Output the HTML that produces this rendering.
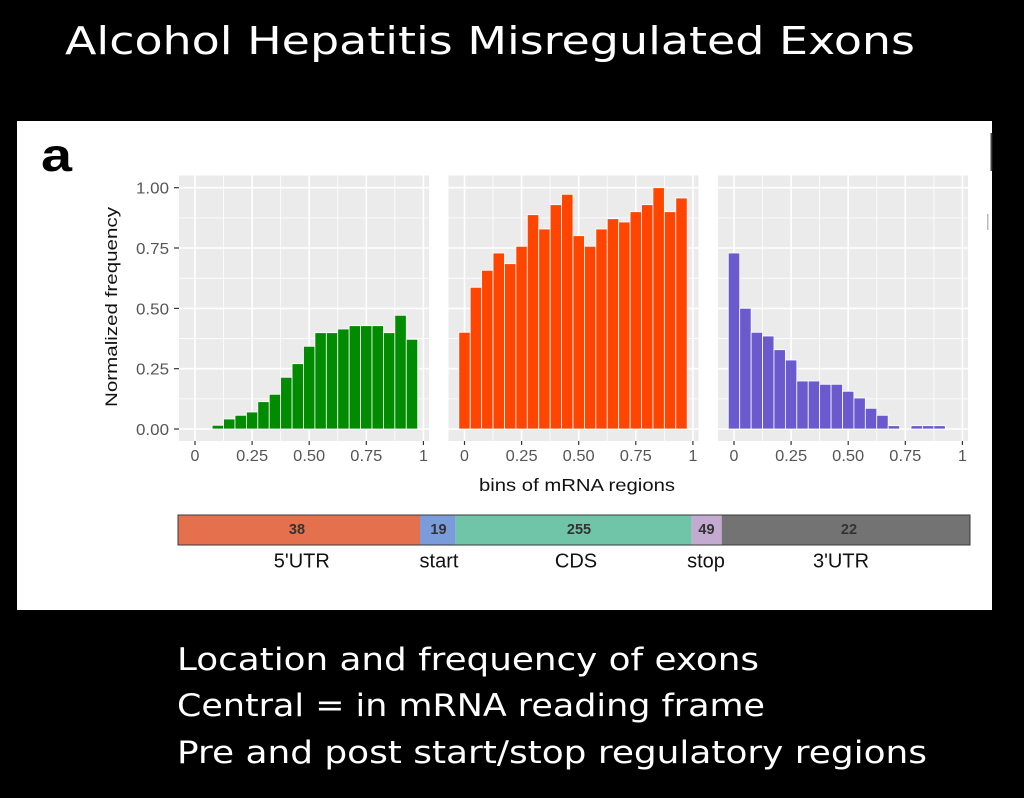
<!DOCTYPE html>
<html>
<head>
<meta charset="utf-8">
<style>
  html, body { margin: 0; padding: 0; background: #000; }
  svg { display: block; }
  .tick { font-family: "Liberation Sans", Arial, sans-serif; font-size: 16px; fill: #555; }
  .ttl { font-family: "Liberation Sans", Arial, sans-serif; fill: #111; }
  .slide { font-family: "DejaVu Sans", "Liberation Sans", sans-serif; fill: #fff; }
</style>
</head>
<body>
<svg width="1024" height="798" viewBox="0 0 1024 798" xmlns="http://www.w3.org/2000/svg">
  <rect x="0" y="0" width="1024" height="798" fill="#000"/>

  <!-- Title -->
  <text class="slide" x="65" y="54" font-size="38" textLength="850" lengthAdjust="spacingAndGlyphs">Alcohol Hepatitis Misregulated Exons</text>

  <!-- White figure panel -->
  <rect x="17" y="121" width="975" height="489" fill="#fff"/>
  <!-- right edge fragments -->
  <rect x="990.5" y="133" width="1.8" height="38" fill="#444"/>
  <rect x="987" y="214" width="1.5" height="16" fill="#bbb"/>

  <!-- panel label -->
  <text x="41" y="171" font-family="Liberation Sans, Arial, sans-serif" font-weight="bold" font-size="46" fill="#000" textLength="31" lengthAdjust="spacingAndGlyphs">a</text>

  <!-- Panel template definitions -->
  <defs>
    <g id="panelbg">
      <rect x="179" y="175.5" width="250" height="265.5" fill="#EBEBEB"/>
      <g stroke="#fff" stroke-width="0.8">
        <line x1="223.55" y1="175.5" x2="223.55" y2="441"/>
        <line x1="280.65" y1="175.5" x2="280.65" y2="441"/>
        <line x1="337.75" y1="175.5" x2="337.75" y2="441"/>
        <line x1="394.85" y1="175.5" x2="394.85" y2="441"/>
        <line x1="179" y1="398.85" x2="429" y2="398.85"/>
        <line x1="179" y1="338.55" x2="429" y2="338.55"/>
        <line x1="179" y1="278.2" x2="429" y2="278.2"/>
        <line x1="179" y1="217.85" x2="429" y2="217.85"/>
      </g>
      <g stroke="#fff" stroke-width="1.6">
        <line x1="195" y1="175.5" x2="195" y2="441"/>
        <line x1="252.1" y1="175.5" x2="252.1" y2="441"/>
        <line x1="309.2" y1="175.5" x2="309.2" y2="441"/>
        <line x1="366.3" y1="175.5" x2="366.3" y2="441"/>
        <line x1="423.4" y1="175.5" x2="423.4" y2="441"/>
        <line x1="179" y1="429" x2="429" y2="429"/>
        <line x1="179" y1="368.7" x2="429" y2="368.7"/>
        <line x1="179" y1="308.4" x2="429" y2="308.4"/>
        <line x1="179" y1="248" x2="429" y2="248"/>
        <line x1="179" y1="187.7" x2="429" y2="187.7"/>
      </g>
      <g stroke="#333" stroke-width="1.2">
        <line x1="195" y1="441" x2="195" y2="445"/>
        <line x1="252.1" y1="441" x2="252.1" y2="445"/>
        <line x1="309.2" y1="441" x2="309.2" y2="445"/>
        <line x1="366.3" y1="441" x2="366.3" y2="445"/>
        <line x1="423.4" y1="441" x2="423.4" y2="445"/>
      </g>
      <g class="tick" text-anchor="middle">
        <text x="195" y="461">0</text>
        <text x="252.1" y="461" textLength="32" lengthAdjust="spacingAndGlyphs">0.25</text>
        <text x="309.2" y="461" textLength="32" lengthAdjust="spacingAndGlyphs">0.50</text>
        <text x="366.3" y="461" textLength="32" lengthAdjust="spacingAndGlyphs">0.75</text>
        <text x="423.4" y="461">1</text>
      </g>
    </g>
  </defs>

  <!-- Panel 1 -->
  <use href="#panelbg"/>
  <g fill="#008B00" stroke="#fff" stroke-width="0.8">
    <rect x="212.13" y="425.3" width="11.42" height="3.7"/>
    <rect x="223.55" y="419" width="11.42" height="10"/>
    <rect x="234.97" y="415.3" width="11.42" height="13.7"/>
    <rect x="246.39" y="412" width="11.42" height="17"/>
    <rect x="257.81" y="401.7" width="11.42" height="27.3"/>
    <rect x="269.23" y="394.3" width="11.42" height="34.7"/>
    <rect x="280.65" y="377.3" width="11.42" height="51.7"/>
    <rect x="292.07" y="363.7" width="11.42" height="65.3"/>
    <rect x="303.49" y="346.3" width="11.42" height="82.7"/>
    <rect x="314.91" y="332.7" width="11.42" height="96.3"/>
    <rect x="326.33" y="332.7" width="11.42" height="96.3"/>
    <rect x="337.75" y="329" width="11.42" height="100"/>
    <rect x="349.17" y="325.7" width="11.42" height="103.3"/>
    <rect x="360.59" y="325.7" width="11.42" height="103.3"/>
    <rect x="372.01" y="325.7" width="11.42" height="103.3"/>
    <rect x="383.43" y="332.7" width="11.42" height="96.3"/>
    <rect x="394.85" y="315.3" width="11.42" height="113.7"/>
    <rect x="406.27" y="339.3" width="11.42" height="89.7"/>
  </g>
  <!-- Y axis ticks / labels (panel 1) -->
  <g stroke="#333" stroke-width="1.2">
    <line x1="174" y1="429" x2="179" y2="429"/>
    <line x1="174" y1="368.7" x2="179" y2="368.7"/>
    <line x1="174" y1="308.4" x2="179" y2="308.4"/>
    <line x1="174" y1="248" x2="179" y2="248"/>
    <line x1="174" y1="187.7" x2="179" y2="187.7"/>
  </g>
  <g class="tick" text-anchor="end">
    <text x="169" y="435" textLength="33" lengthAdjust="spacingAndGlyphs">0.00</text>
    <text x="169" y="374.7" textLength="33" lengthAdjust="spacingAndGlyphs">0.25</text>
    <text x="169" y="314.4" textLength="33" lengthAdjust="spacingAndGlyphs">0.50</text>
    <text x="169" y="254" textLength="33" lengthAdjust="spacingAndGlyphs">0.75</text>
    <text x="169" y="193.7" textLength="33" lengthAdjust="spacingAndGlyphs">1.00</text>
  </g>
  <text class="ttl" font-size="17" text-anchor="middle" transform="translate(117,307) rotate(-90)" x="0" y="0" textLength="200" lengthAdjust="spacingAndGlyphs">Normalized frequency</text>

  <!-- Panel 2 -->
  <g transform="translate(269.5,0)">
    <use href="#panelbg"/>
    <g fill="#FF4500" stroke="#fff" stroke-width="0.8">
      <rect x="189.29" y="332.3" width="11.42" height="96.7"/>
      <rect x="200.71" y="287.3" width="11.42" height="141.7"/>
      <rect x="212.13" y="270.3" width="11.42" height="158.7"/>
      <rect x="223.55" y="253" width="11.42" height="176"/>
      <rect x="234.97" y="263.7" width="11.42" height="165.3"/>
      <rect x="246.39" y="246.3" width="11.42" height="182.7"/>
      <rect x="257.81" y="214.7" width="11.42" height="214.3"/>
      <rect x="269.23" y="229" width="11.42" height="200"/>
      <rect x="280.65" y="204.7" width="11.42" height="224.3"/>
      <rect x="292.07" y="194.3" width="11.42" height="234.7"/>
      <rect x="303.49" y="235.7" width="11.42" height="193.3"/>
      <rect x="314.91" y="246.3" width="11.42" height="182.7"/>
      <rect x="326.33" y="229" width="11.42" height="200"/>
      <rect x="337.75" y="218.7" width="11.42" height="210.3"/>
      <rect x="349.17" y="222" width="11.42" height="207"/>
      <rect x="360.59" y="211.7" width="11.42" height="217.3"/>
      <rect x="372.01" y="204.7" width="11.42" height="224.3"/>
      <rect x="383.43" y="187.7" width="11.42" height="241.3"/>
      <rect x="394.85" y="211.7" width="11.42" height="217.3"/>
      <rect x="406.27" y="198" width="11.42" height="231"/>
    </g>
  </g>

  <!-- Panel 3 -->
  <g transform="translate(539,0)">
    <use href="#panelbg"/>
    <g fill="#6A5ACD" stroke="#fff" stroke-width="0.8">
      <rect x="189.29" y="253" width="11.42" height="176"/>
      <rect x="200.71" y="308.3" width="11.42" height="120.7"/>
      <rect x="212.13" y="332.3" width="11.42" height="96.7"/>
      <rect x="223.55" y="336" width="11.42" height="93"/>
      <rect x="234.97" y="349.7" width="11.42" height="79.3"/>
      <rect x="246.39" y="360" width="11.42" height="69"/>
      <rect x="257.81" y="381" width="11.42" height="48"/>
      <rect x="269.23" y="381" width="11.42" height="48"/>
      <rect x="280.65" y="384.3" width="11.42" height="44.7"/>
      <rect x="292.07" y="384.3" width="11.42" height="44.7"/>
      <rect x="303.49" y="391.3" width="11.42" height="37.7"/>
      <rect x="314.91" y="398" width="11.42" height="31"/>
      <rect x="326.33" y="408.3" width="11.42" height="20.7"/>
      <rect x="337.75" y="415.3" width="11.42" height="13.7"/>
      <rect x="349.17" y="425.7" width="11.42" height="3.3"/>
      <rect x="372.01" y="425.7" width="11.42" height="3.3"/>
      <rect x="383.43" y="425.7" width="11.42" height="3.3"/>
      <rect x="394.85" y="425.7" width="11.42" height="3.3"/>
    </g>
  </g>

  <!-- X axis title -->
  <text class="ttl" font-size="17.5" text-anchor="middle" x="577" y="491" textLength="196" lengthAdjust="spacingAndGlyphs">bins of mRNA regions</text>

  <!-- Region bar -->
  <rect x="178" y="515" width="242" height="30" fill="#E4704D"/>
  <rect x="420" y="515" width="35.7" height="30" fill="#7B9CDA"/>
  <rect x="455.7" y="515" width="236" height="30" fill="#70C4A8"/>
  <rect x="691.7" y="515" width="30" height="30" fill="#C2AAD0"/>
  <rect x="721.7" y="515" width="248.3" height="30" fill="#737373"/>
  <rect x="178" y="515" width="792" height="30" fill="none" stroke="#3a3a3a" stroke-width="1"/>

  <g font-family="Liberation Sans, Arial, sans-serif" font-weight="bold" font-size="14.5" fill="#333" text-anchor="middle">
    <text x="297" y="534">38</text>
    <text x="438.5" y="534">19</text>
    <text x="579" y="534">255</text>
    <text x="706.5" y="534">49</text>
    <text x="849" y="534">22</text>
  </g>
  <g font-family="Liberation Sans, Arial, sans-serif" font-size="20" fill="#111" text-anchor="middle">
    <text x="301.8" y="567.5">5'UTR</text>
    <text x="439" y="567.5">start</text>
    <text x="576" y="567.5">CDS</text>
    <text x="706" y="567.5">stop</text>
    <text x="841" y="567.5">3'UTR</text>
  </g>

  <!-- Bottom slide text -->
  <text class="slide" x="177" y="670" font-size="31" textLength="582" lengthAdjust="spacingAndGlyphs">Location and frequency of  exons</text>
  <text class="slide" x="177" y="716" font-size="31" textLength="588" lengthAdjust="spacingAndGlyphs">Central = in mRNA reading frame</text>
  <text class="slide" x="177" y="763" font-size="31" textLength="750" lengthAdjust="spacingAndGlyphs">Pre and post start/stop regulatory regions</text>
</svg>
</body>
</html>
